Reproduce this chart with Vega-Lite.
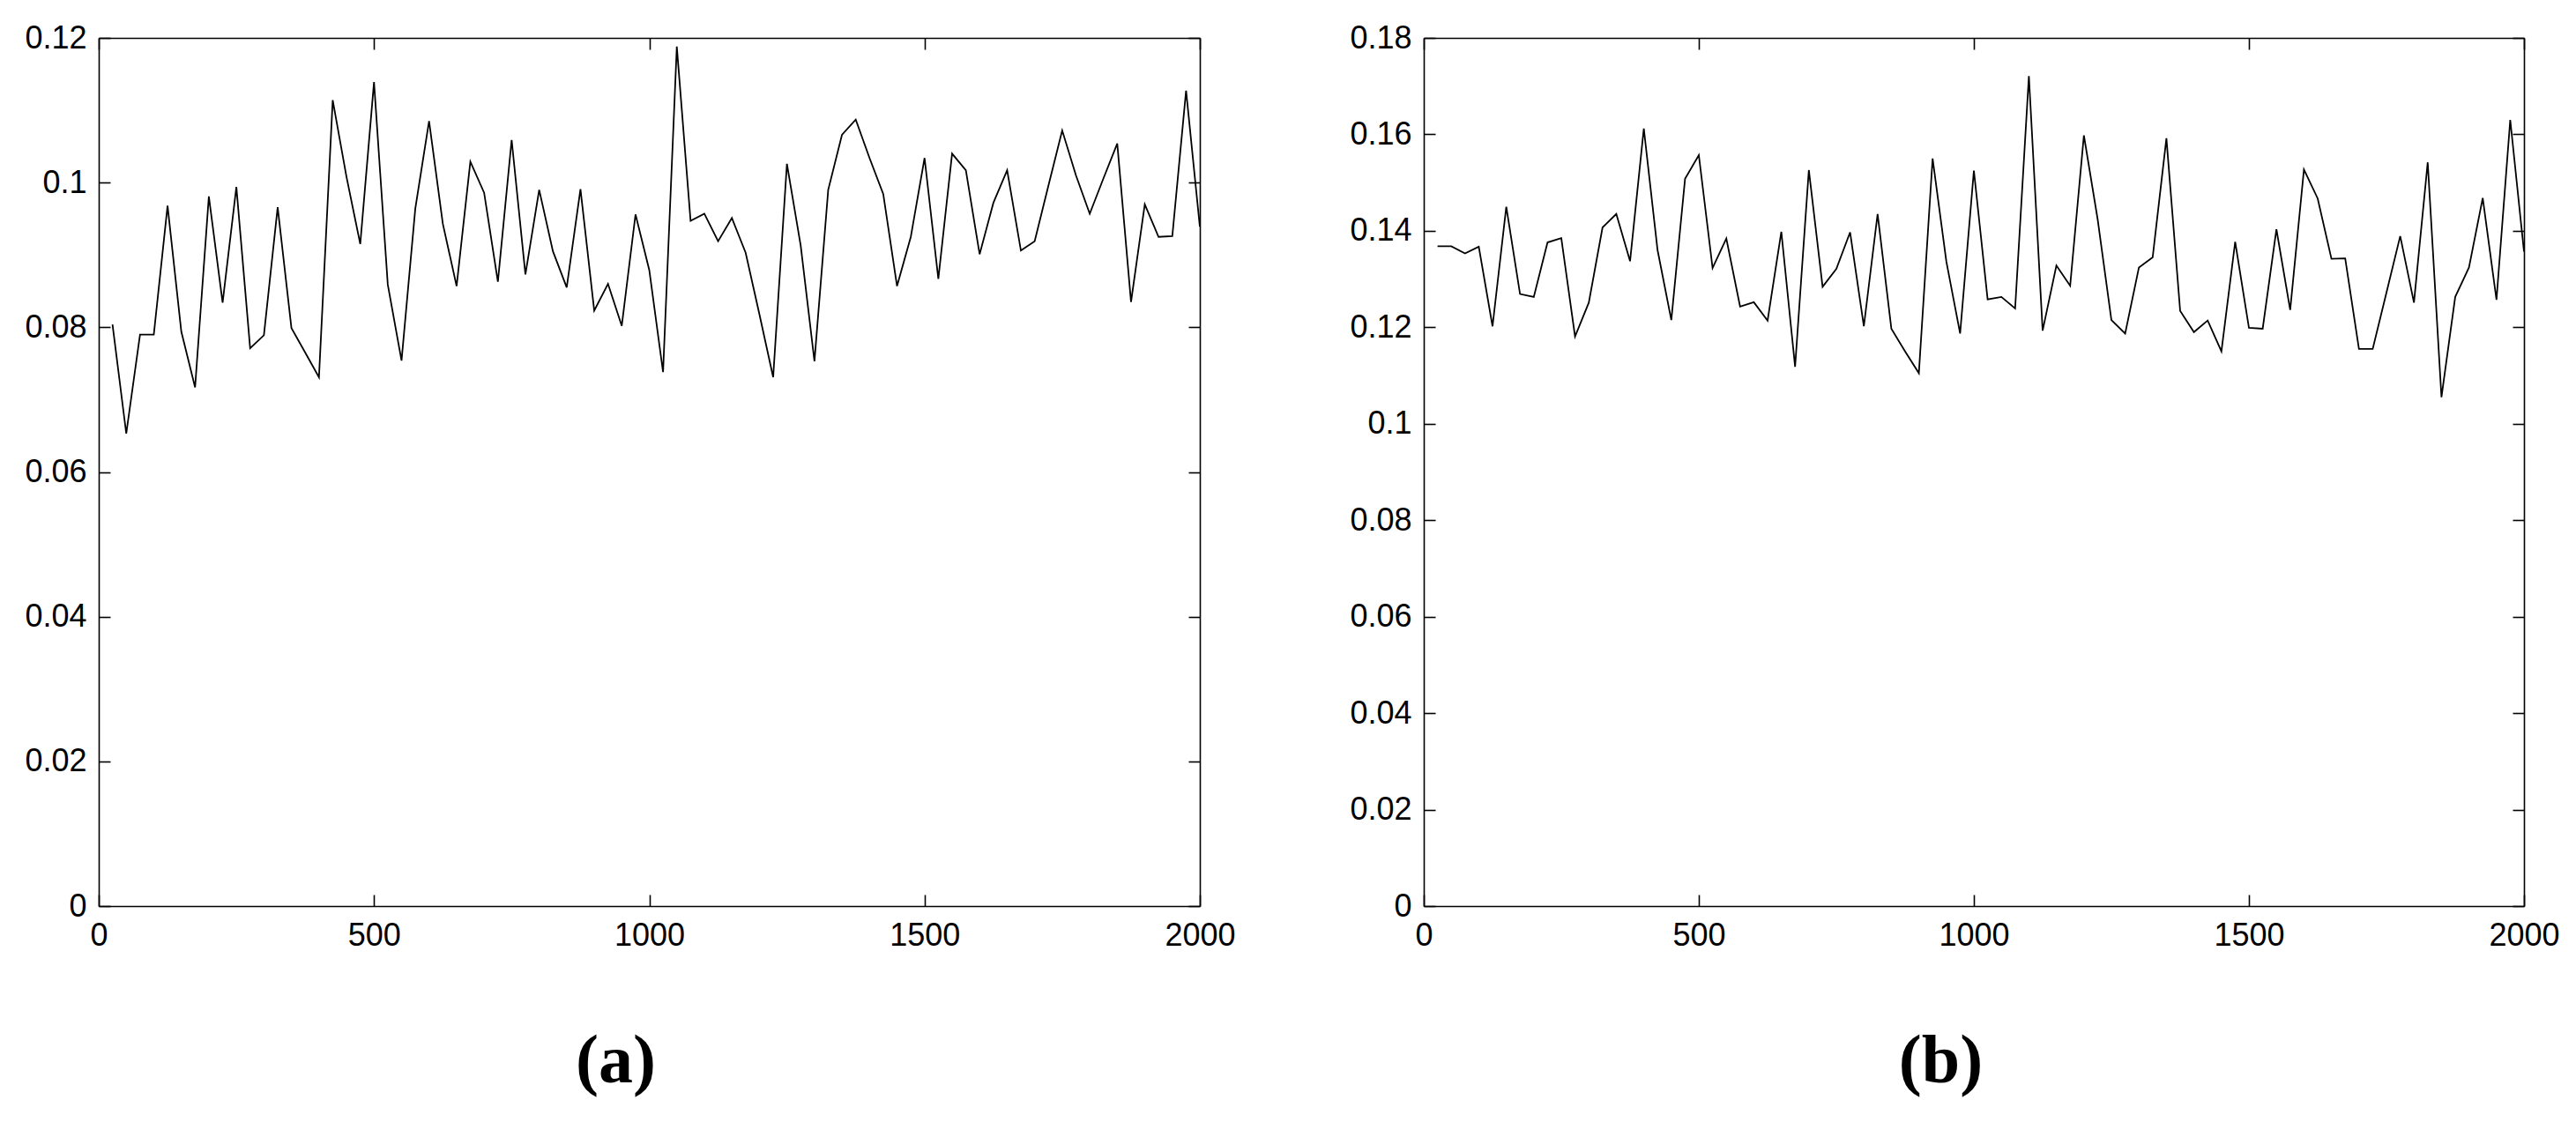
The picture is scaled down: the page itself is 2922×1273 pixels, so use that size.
{
  "$schema": "https://vega.github.io/schema/vega-lite/v6.json",
  "autosize": {"type": "pad"},
  "padding": {"left": 27, "top": 25, "right": 5, "bottom": 5},
  "background": "white",
  "spacing": 128,
  "config": {
    "view": {"stroke": null},
    "axis": {
      "domainColor": "black", "domainWidth": 1.6,
      "tickColor": "black", "tickWidth": 1.6, "tickSize": -13,
      "labelFont": "Liberation Sans", "labelFontSize": 36, "labelColor": "black",
      "grid": false, "labelFlush": false, "labelOverlap": false, "labelBound": false,
      "titleFont": "Liberation Serif", "titleFontSize": 78, "titleFontWeight": "bold", "titleColor": "black"
    },
    "axisX": {"labelPadding": 29},
    "axisY": {"labelPadding": 27}
  },
  "datasets": {
    "a": [
      {"x":25,"y":0.0804},{"x":50,"y":0.0653},{"x":75,"y":0.0790},{"x":100,"y":0.0790},{"x":125,"y":0.0968},
      {"x":150,"y":0.0794},{"x":175,"y":0.0717},{"x":200,"y":0.0981},{"x":225,"y":0.0834},{"x":250,"y":0.0994},
      {"x":275,"y":0.0771},{"x":300,"y":0.0789},{"x":325,"y":0.0966},{"x":350,"y":0.0799},{"x":375,"y":0.0765},
      {"x":400,"y":0.0731},{"x":425,"y":0.1114},{"x":450,"y":0.1008},{"x":475,"y":0.0915},{"x":500,"y":0.1139},
      {"x":525,"y":0.0859},{"x":550,"y":0.0754},{"x":575,"y":0.0964},{"x":600,"y":0.1085},{"x":625,"y":0.0943},
      {"x":650,"y":0.0857},{"x":675,"y":0.1029},{"x":700,"y":0.0986},{"x":725,"y":0.0863},{"x":750,"y":0.1059},
      {"x":775,"y":0.0873},{"x":800,"y":0.0990},{"x":825,"y":0.0905},{"x":850,"y":0.0855},{"x":875,"y":0.0991},
      {"x":900,"y":0.0823},{"x":925,"y":0.0860},{"x":950,"y":0.0802},{"x":975,"y":0.0956},{"x":1000,"y":0.0879},
      {"x":1025,"y":0.0738},{"x":1050,"y":0.1188},{"x":1075,"y":0.0947},{"x":1100,"y":0.0957},{"x":1125,"y":0.0919},
      {"x":1150,"y":0.0951},{"x":1175,"y":0.0903},{"x":1200,"y":0.0818},{"x":1225,"y":0.0731},{"x":1250,"y":0.1026},
      {"x":1275,"y":0.0913},{"x":1300,"y":0.0753},{"x":1325,"y":0.0990},{"x":1350,"y":0.1066},{"x":1375,"y":0.1087},
      {"x":1400,"y":0.1034},{"x":1425,"y":0.0984},{"x":1450,"y":0.0857},{"x":1475,"y":0.0925},{"x":1500,"y":0.1034},
      {"x":1525,"y":0.0867},{"x":1550,"y":0.1040},{"x":1575,"y":0.1017},{"x":1600,"y":0.0901},{"x":1625,"y":0.0972},
      {"x":1650,"y":0.1017},{"x":1675,"y":0.0906},{"x":1700,"y":0.0919},{"x":1725,"y":0.0996},{"x":1750,"y":0.1072},
      {"x":1775,"y":0.1010},{"x":1800,"y":0.0957},{"x":1825,"y":0.1006},{"x":1850,"y":0.1054},{"x":1875,"y":0.0835},
      {"x":1900,"y":0.0970},{"x":1925,"y":0.0925},{"x":1950,"y":0.0926},{"x":1975,"y":0.1127},{"x":2000,"y":0.0939}
    ],
    "b": [
      {"x":25,"y":0.1368},{"x":50,"y":0.1368},{"x":75,"y":0.1353},{"x":100,"y":0.1367},{"x":125,"y":0.1202},
      {"x":150,"y":0.1450},{"x":175,"y":0.1269},{"x":200,"y":0.1263},{"x":225,"y":0.1376},{"x":250,"y":0.1385},
      {"x":275,"y":0.1181},{"x":300,"y":0.1251},{"x":325,"y":0.1407},{"x":350,"y":0.1435},{"x":375,"y":0.1337},
      {"x":400,"y":0.1612},{"x":425,"y":0.1360},{"x":450,"y":0.1215},{"x":475,"y":0.1508},{"x":500,"y":0.1557},
      {"x":525,"y":0.1323},{"x":550,"y":0.1384},{"x":575,"y":0.1243},{"x":600,"y":0.1252},{"x":625,"y":0.1214},
      {"x":650,"y":0.1398},{"x":675,"y":0.1118},{"x":700,"y":0.1526},{"x":725,"y":0.1284},{"x":750,"y":0.1321},
      {"x":775,"y":0.1397},{"x":800,"y":0.1202},{"x":825,"y":0.1435},{"x":850,"y":0.1197},{"x":875,"y":0.1150},
      {"x":900,"y":0.1105},{"x":925,"y":0.1550},{"x":950,"y":0.1336},{"x":975,"y":0.1187},{"x":1000,"y":0.1525},
      {"x":1025,"y":0.1258},{"x":1050,"y":0.1263},{"x":1075,"y":0.1239},{"x":1100,"y":0.1721},{"x":1125,"y":0.1193},
      {"x":1150,"y":0.1328},{"x":1175,"y":0.1286},{"x":1200,"y":0.1598},{"x":1225,"y":0.1424},{"x":1250,"y":0.1215},
      {"x":1275,"y":0.1187},{"x":1300,"y":0.1324},{"x":1325,"y":0.1345},{"x":1350,"y":0.1592},{"x":1375,"y":0.1234},
      {"x":1400,"y":0.1190},{"x":1425,"y":0.1214},{"x":1450,"y":0.1150},{"x":1475,"y":0.1377},{"x":1500,"y":0.1199},
      {"x":1525,"y":0.1197},{"x":1550,"y":0.1403},{"x":1575,"y":0.1236},{"x":1600,"y":0.1527},{"x":1625,"y":0.1467},
      {"x":1650,"y":0.1342},{"x":1675,"y":0.1343},{"x":1700,"y":0.1155},{"x":1725,"y":0.1155},{"x":1750,"y":0.1272},
      {"x":1775,"y":0.1389},{"x":1800,"y":0.1251},{"x":1825,"y":0.1542},{"x":1850,"y":0.1055},{"x":1875,"y":0.1263},
      {"x":1900,"y":0.1324},{"x":1925,"y":0.1468},{"x":1950,"y":0.1257},{"x":1975,"y":0.1630},{"x":2000,"y":0.1357}
    ]
  },
  "hconcat": [
    {
      "width": 1249, "height": 985,
      "data": {"name": "a"},
      "layer": [
        {
          "mark": {"type": "line", "color": "black", "strokeWidth": 1.8},
          "encoding": {
            "x": {"field": "x", "type": "quantitative", "scale": {"domain": [0, 2000], "nice": false},
                  "axis": {"orient": "bottom", "values": [0, 500, 1000, 1500, 2000], "format": "d", "title": "(a)",
                           "titleX": 586, "titleY": 199, "titleBaseline": "alphabetic", "titleAlign": "center"}},
            "y": {"field": "y", "type": "quantitative", "scale": {"domain": [0, 0.12], "nice": false},
                  "axis": {"orient": "left", "values": [0, 0.02, 0.04, 0.06, 0.08, 0.1, 0.12],
                           "labelExpr": "format(datum.value, '.2~f')", "title": null}}
          }
        },
        {
          "mark": {"type": "line", "opacity": 0},
          "encoding": {
            "x": {"field": "x", "type": "quantitative",
                  "axis": {"orient": "top", "values": [0, 500, 1000, 1500, 2000], "labels": false, "title": null}},
            "y": {"field": "y", "type": "quantitative",
                  "axis": {"orient": "right", "values": [0, 0.02, 0.04, 0.06, 0.08, 0.1, 0.12], "labels": false, "title": null}}
          }
        }
      ],
      "resolve": {"axis": {"x": "independent", "y": "independent"}}
    },
    {
      "width": 1248, "height": 985,
      "data": {"name": "b"},
      "layer": [
        {
          "mark": {"type": "line", "color": "black", "strokeWidth": 1.8},
          "encoding": {
            "x": {"field": "x", "type": "quantitative", "scale": {"domain": [0, 2000], "nice": false},
                  "axis": {"orient": "bottom", "values": [0, 500, 1000, 1500, 2000], "format": "d", "title": "(b)",
                           "titleX": 586, "titleY": 199, "titleBaseline": "alphabetic", "titleAlign": "center"}},
            "y": {"field": "y", "type": "quantitative", "scale": {"domain": [0, 0.18], "nice": false},
                  "axis": {"orient": "left", "values": [0, 0.02, 0.04, 0.06, 0.08, 0.1, 0.12, 0.14, 0.16, 0.18],
                           "labelExpr": "format(datum.value, '.2~f')", "title": null}}
          }
        },
        {
          "mark": {"type": "line", "opacity": 0},
          "encoding": {
            "x": {"field": "x", "type": "quantitative",
                  "axis": {"orient": "top", "values": [0, 500, 1000, 1500, 2000], "labels": false, "title": null}},
            "y": {"field": "y", "type": "quantitative",
                  "axis": {"orient": "right", "values": [0, 0.02, 0.04, 0.06, 0.08, 0.1, 0.12, 0.14, 0.16, 0.18], "labels": false, "title": null}}
          }
        }
      ],
      "resolve": {"axis": {"x": "independent", "y": "independent"}}
    }
  ]
}
